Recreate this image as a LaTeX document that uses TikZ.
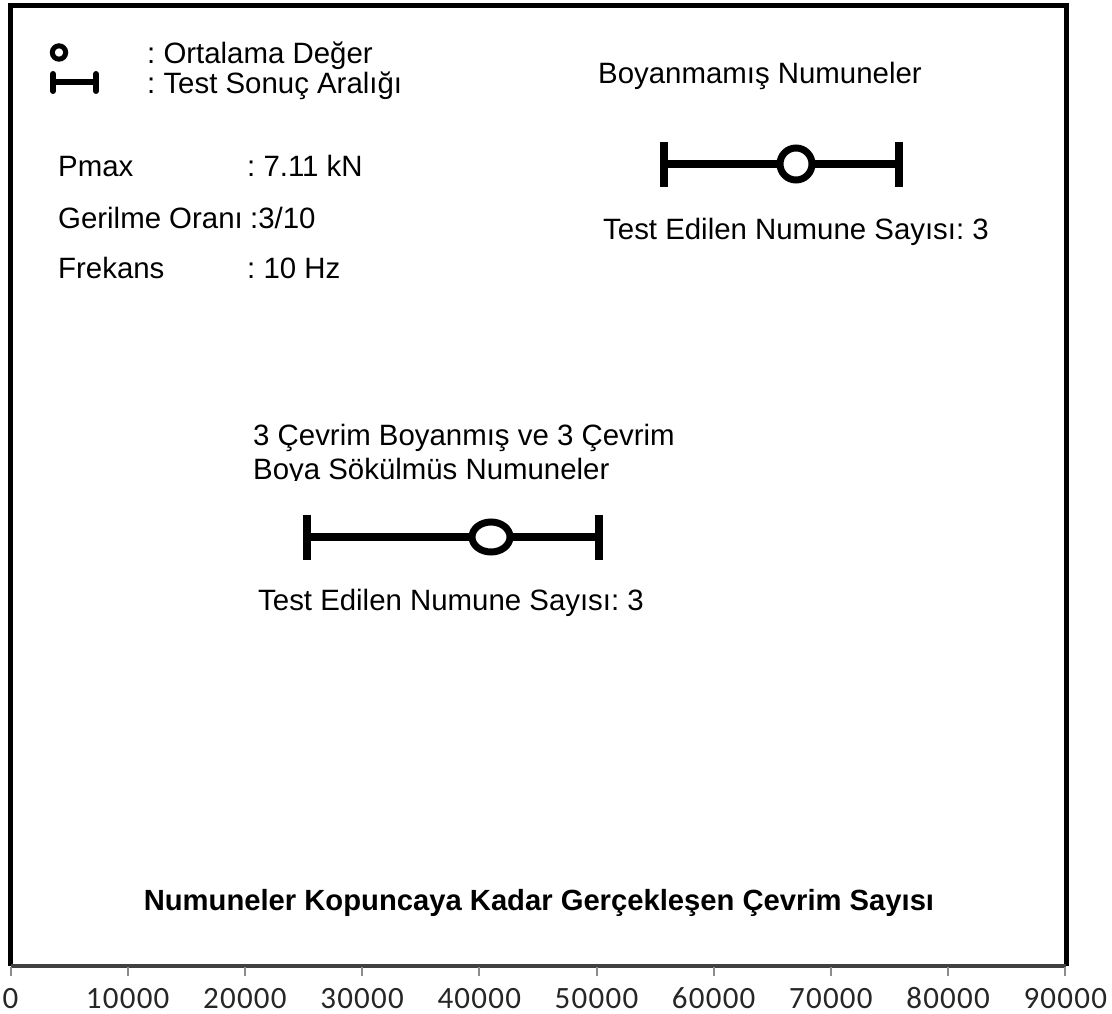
\documentclass[tikz,border=0pt]{standalone}
\usepackage{fontspec}
\setmainfont{Liberation Sans}
\newfontfamily\axisfont[LetterSpace=4]{Carlito}
\frenchspacing

\begin{document}
\begin{tikzpicture}[x=1pt,y=-1pt,
    lbl/.style={inner sep=0pt,anchor=base west,font=\fontsize{29.4}{34}\selectfont},
    ticklbl/.style={inner sep=0pt,anchor=base,font=\axisfont\fontsize{31}{34}\selectfont,text=black!85},
    errbar/.style={line width=8pt},
    meanmark/.style={line width=7pt,fill=white},
    axistick/.style={line width=2pt,black!45}]
    \useasboundingbox (0,0) rectangle (1112,1014);

    % frame and axis
    \draw[line width=5pt] (10.5,966) -- (10.5,6) -- (1066,6) -- (1066,966);
    \draw[line width=4pt,black!75] (10.5,966) -- (1066,966);
    \foreach \i/\t in {0/0,1/10000,2/20000,3/30000,4/40000,5/50000,6/60000,7/70000,8/80000,9/90000} {
        \draw[axistick] ({10.5+117.2*\i},967) -- ({10.5+117.2*\i},976);
        \node (tick\i) [ticklbl] at ({10.5+117.2*\i},1008) {\t};
    }

    % legend
    \draw[line width=5pt] (59,52.5) circle (6.7pt);
    \draw[line width=6pt,line cap=round] (53,74) -- (53,91);
    \draw[line width=6pt,line cap=round] (96,74) -- (96,91);
    \draw[line width=6pt] (53,82) -- (96,82);
    \node (mean) [lbl] at (147,64) {: Ortalama Değer};
    \node (range) [lbl] at (147,94) {: Test Sonuç Aralığı};

    % test parameters
    \node (pmax) [lbl] at (58,177) {Pmax};
    \node (pmaxval) [lbl] at (247,177) {: 7.11 kN};
    \node (ratio) [lbl] at (58,229) {Gerilme Oranı};
    \node (ratioval) [lbl] at (250,229) {:3/10};
    \node (freq) [lbl] at (58,278) {Frekans};
    \node (freqval) [lbl] at (247,278) {: 10 Hz};

    % unpainted specimens
    \node (unpainted) [lbl] at (598,84) {Boyanmamış Numuneler};
    \draw[errbar] (663.6,164) -- (899,164);
    \draw[errbar] (663.6,142) -- (663.6,187.5);
    \draw[errbar] (899,142) -- (899,187.5);
    \draw[meanmark] (796,164) circle (16pt);
    \node (countA) [lbl] at (603,240) {Test Edilen Numune Sayısı: 3};

    % painted and stripped specimens
    \node (painted) [lbl] at (253,445) {3 Çevrim Boyanmış ve 3 Çevrim};
    \begin{scope}
        \clip (240,452) rectangle (700,480);
        \node (stripped) [lbl] at (253,479) {Boya Sökülmüs Numuneler};
    \end{scope}
    \draw[errbar] (307,537) -- (599,537);
    \draw[errbar] (307,515) -- (307,560);
    \draw[errbar] (599,515) -- (599,560);
    \draw[meanmark] (491,537) ellipse [x radius=19pt,y radius=15pt];
    \node (countB) [lbl] at (258,610) {Test Edilen Numune Sayısı: 3};

    % title
    \node (title) [lbl,font=\bfseries\fontsize{29.2}{34}\selectfont,anchor=base] at (539,910)
        {Numuneler Kopuncaya Kadar Gerçekleşen Çevrim Sayısı};
\end{tikzpicture}
\end{document}
